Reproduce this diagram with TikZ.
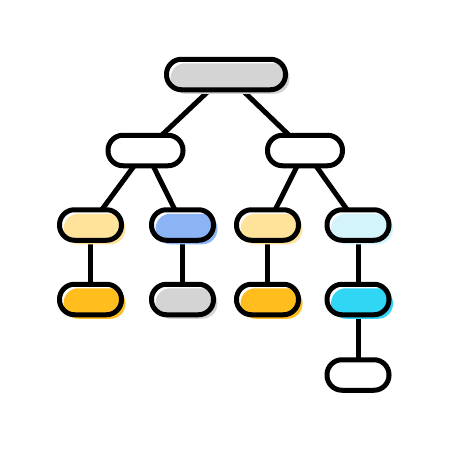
\documentclass[tikz,border=0pt]{standalone}
\usepackage{tikz}
\usetikzlibrary{
    positioning,
    backgrounds
}
\definecolor{PillGray}{RGB}{212,212,212}
\definecolor{PaleYellow}{RGB}{255,227,154}
\definecolor{Amber}{RGB}{255,190,30}
\definecolor{SoftBlue}{RGB}{140,180,245}
\definecolor{PaleCyan}{RGB}{212,244,252}
\definecolor{BrightCyan}{RGB}{50,214,245}

\begin{document}
\begin{tikzpicture}[
            x=1pt,
            y=-1pt,
            line width=5pt,
            pill/.style={draw=black, preaction={fill=white}, rounded corners=15pt,
                minimum height=30.5pt, inner sep=0pt},
            tone/.style={preaction={fill=#1, transform canvas={shift={(4pt,-4pt)}}}},
            link/.style={draw=black, line width=5pt},
        ]
        \useasboundingbox (0,0) rectangle (450,450);

        % Rows and columns
        \def\rowA{74.5}
        \def\rowB{150.5}
        \def\rowC{225}
        \def\rowD{299.5}
        \def\rowE{375}

        % Top level
        \node[pill, tone=PillGray, minimum width=119pt] (root) at (226,\rowA) {};

        % Second level
        \node[pill, minimum width=75pt] (left) at (145.5,\rowB) {};
        \node[pill, minimum width=75pt] (right) at (305,\rowB) {};

        % Third level
        \node[pill, tone=PaleYellow, minimum width=62pt] (la) at (90.5,\rowC) {};
        \node[pill, tone=SoftBlue, minimum width=62pt] (lb) at (182.5,\rowC) {};
        \node[pill, tone=PaleYellow, minimum width=62pt] (ra) at (267.5,\rowC) {};
        \node[pill, tone=PaleCyan, minimum width=62pt] (rb) at (358,\rowC) {};

        % Fourth level
        \node[pill, tone=Amber, minimum width=62pt] (laa) at (90.5,\rowD) {};
        \node[pill, tone=PillGray, minimum width=62pt] (lba) at (182.5,\rowD) {};
        \node[pill, tone=Amber, minimum width=62pt] (raa) at (267.5,\rowD) {};
        \node[pill, tone=BrightCyan, minimum width=62pt] (rba) at (358,\rowD) {};

        % Last leaf
        \node[pill, minimum width=62pt] (rbaa) at (358,\rowE) {};

        % Links
        \begin{scope}[on background layer]
            \draw[link] (root.center) -- (left.center);
            \draw[link] (root.center) -- (right.center);
            \draw[link] (left.center) -- (la.center);
            \draw[link] (left.center) -- (lb.center);
            \draw[link] (right.center) -- (ra.center);
            \draw[link] (right.center) -- (rb.center);
            \draw[link] (la.center) -- (laa.center);
            \draw[link] (lb.center) -- (lba.center);
            \draw[link] (ra.center) -- (raa.center);
            \draw[link] (rb.center) -- (rba.center);
            \draw[link] (rba.center) -- (rbaa.center);
        \end{scope}
        \end{tikzpicture}
\end{document}
